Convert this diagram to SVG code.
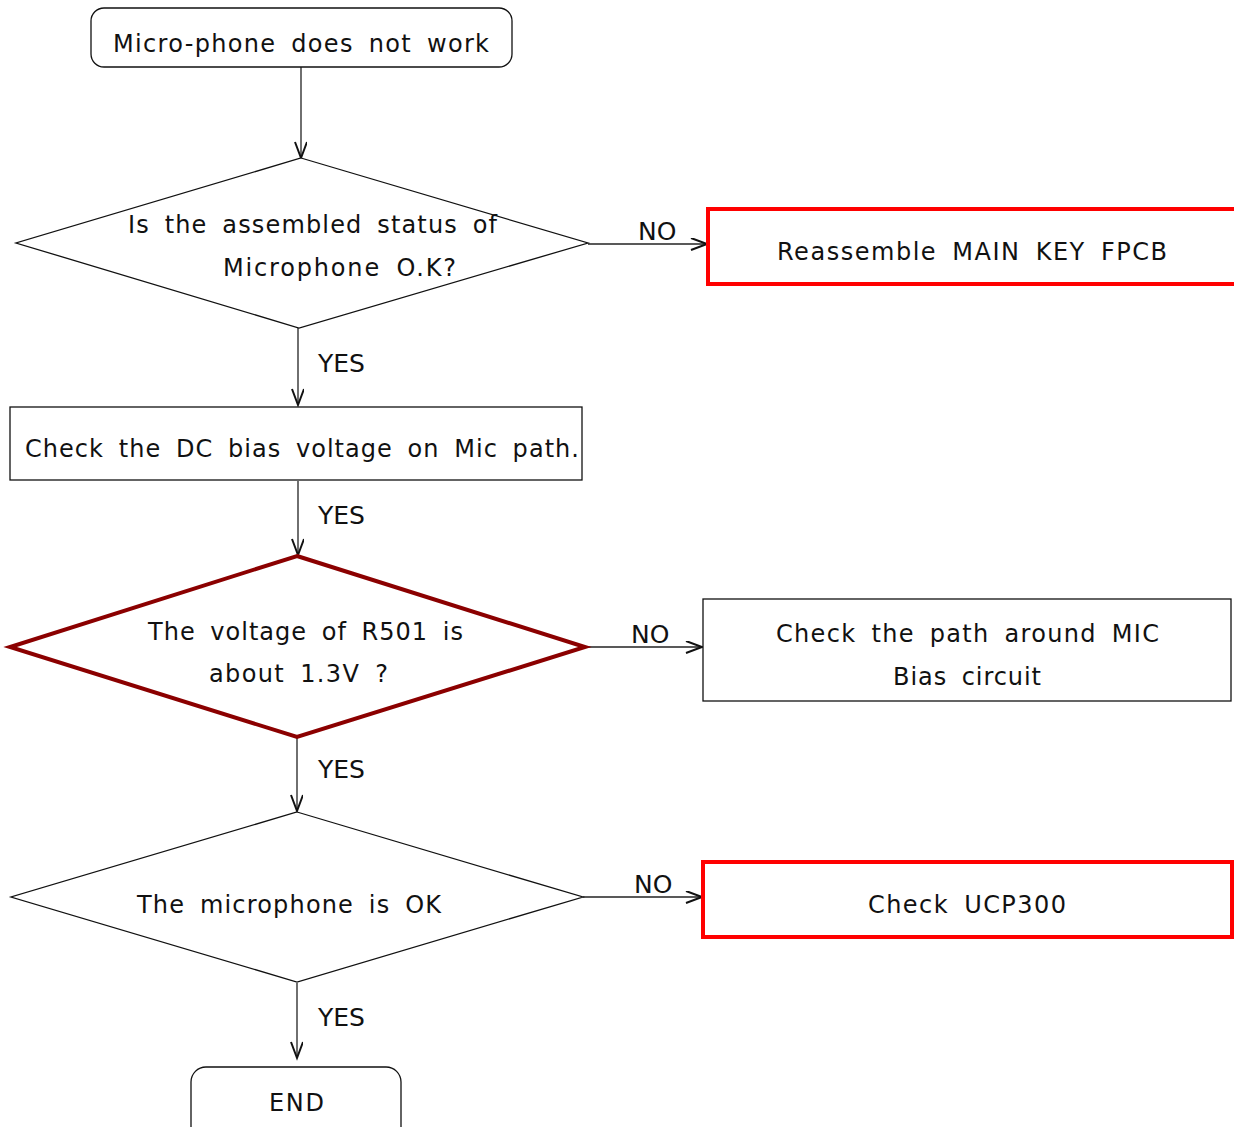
<svg xmlns="http://www.w3.org/2000/svg" width="1234" height="1127" viewBox="0 0 1234 1127">
<style>
text{font-family:"DejaVu Sans","Liberation Sans",sans-serif;font-size:24px;fill:#111;word-spacing:6px;}
.lbl{font-size:25px;}
.thin{fill:#fff;stroke:#111;stroke-width:1.3;}
.red{fill:#fff;stroke:#f00;stroke-width:4;}
.dred{fill:#fff;stroke:#8b0000;stroke-width:4;}
.con{fill:none;stroke:#222;stroke-width:1.3;marker-end:url(#arr);}
</style>
<defs>
<marker id="arr" markerUnits="userSpaceOnUse" markerWidth="20" markerHeight="14" refX="17" refY="6" orient="auto">
<path d="M1,0 L17,6 L1,12" fill="none" stroke="#111" stroke-width="2"/>
</marker>
</defs>
<rect width="1234" height="1127" fill="#fff"/>
<g id="connectors">
<line class="con" x1="301" y1="67" x2="301" y2="158"/>
<line class="con" x1="588" y1="244" x2="707" y2="244"/>
<line class="con" x1="298" y1="328" x2="298" y2="405"/>
<line class="con" x1="298" y1="481" x2="298" y2="555"/>
<line class="con" x1="585" y1="647" x2="702" y2="647"/>
<line class="con" x1="297" y1="738" x2="297" y2="811"/>
<line class="con" x1="583" y1="897" x2="702" y2="897"/>
<line class="con" x1="297" y1="983" x2="297" y2="1058"/>
<text class="lbl" x="638" y="240">NO</text>
<text class="lbl" x="318" y="372">YES</text>
<text class="lbl" x="318" y="524">YES</text>
<text class="lbl" x="631" y="643">NO</text>
<text class="lbl" x="318" y="778">YES</text>
<text class="lbl" x="634" y="893">NO</text>
<text class="lbl" x="318" y="1026">YES</text>
</g>
<g id="start">
<rect class="thin" x="91" y="8" width="421" height="59" rx="13"/>
<text x="113" y="52" textLength="376" lengthAdjust="spacing">Micro-phone does not work</text>
</g>
<g id="decision1">
<polygon class="thin" points="301,158 588,243 299,328 16,243"/>
<text x="128" y="233" textLength="369">Is the assembled status of</text>
<text x="223" y="276" textLength="233">Microphone O.K?</text>
</g>
<g id="reassemble">
<rect class="red" x="708" y="209" width="540" height="75"/>
<text x="777" y="260" textLength="390">Reassemble MAIN KEY FPCB</text>
</g>
<g id="checkdc">
<rect class="thin" x="10" y="407" width="572" height="73"/>
<text x="25" y="457" textLength="554">Check the DC bias voltage on Mic path.</text>
</g>
<g id="decision2">
<polygon class="dred" points="297,556 585,647 297,737 10,647"/>
<text x="148" y="640" textLength="315">The voltage of R501 is</text>
<text x="209" y="682" textLength="179">about 1.3V ?</text>
</g>
<g id="checkpath">
<rect class="thin" x="703" y="599" width="528" height="102"/>
<text x="776" y="642" textLength="383">Check the path around MIC</text>
<text x="893" y="685" textLength="148">Bias circuit</text>
</g>
<g id="decision3">
<polygon class="thin" points="297,812 583,897 297,982 11,897"/>
<text x="137" y="913" textLength="304">The microphone is OK</text>
</g>
<g id="checkucp">
<rect class="red" x="703" y="862" width="529" height="75"/>
<text x="868" y="913" textLength="198">Check UCP300</text>
</g>
<g id="end">
<rect class="thin" x="191" y="1067" width="210" height="80" rx="15"/>
<text x="269" y="1111" textLength="55">END</text>
</g>
</svg>
